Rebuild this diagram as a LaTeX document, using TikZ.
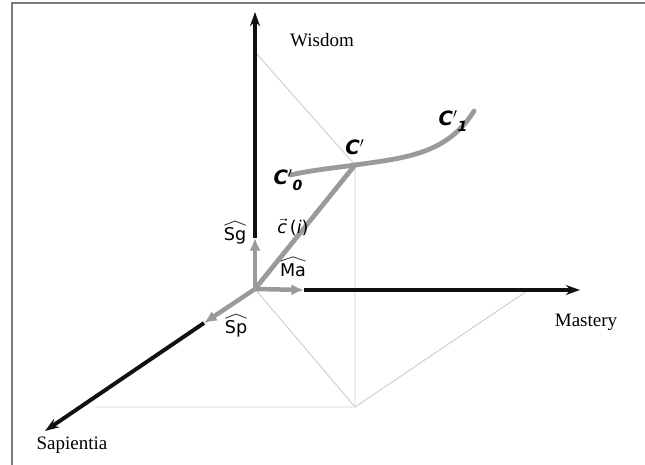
\documentclass[tikz,border=0pt]{standalone}
\usepackage{fontspec}
\setmainfont{Liberation Serif}
\newfontfamily\vecfont{DejaVu Sans}
\usetikzlibrary{arrows.meta}
\definecolor{axisblack}{HTML}{111111}
\definecolor{vecgray}{HTML}{9A9A9A}
\definecolor{projgray}{HTML}{CFCFCF}
\definecolor{framegray}{HTML}{7A7A7A}
\newcommand{\ptsub}[1]{\raisebox{-4pt}{\fontsize{10}{10}\selectfont #1}}

\begin{document}
\begin{tikzpicture}[
    x=0.025cm, y=-0.025cm,
    axis/.style={line width=2.8pt, axisblack, -{Stealth[length=10pt,width=7pt]}},
    unitvec/.style={line width=3.2pt, vecgray, -{Latex[length=9pt,width=8pt]}},
    proj/.style={line width=0.7pt, projgray},
    traj/.style={line width=3.4pt, vecgray, line cap=round},
    axlabel/.style={font=\fontsize{13.5}{15}\selectfont},
    veclabel/.style={font=\vecfont\fontsize{12.5}{13}\selectfont, inner sep=0pt},
    hatline/.style={line width=0.6pt, black!80},
    ptlabel/.style={font=\vecfont\bfseries\itshape\fontsize{14}{15}\selectfont},
  ]
  \useasboundingbox (0,0) rectangle (645,465);
  \draw[framegray, line width=2pt] (12,465) -- (12,3) -- (645,3);

  % frame of reference
  \coordinate (O) at (255,289);
  \coordinate (W) at (255,12);
  \coordinate (M) at (580,290);
  \coordinate (S) at (45,431);
  \coordinate (sgtip) at (255,238);
  \coordinate (matip) at (304,290);
  \coordinate (sptip) at (204,323);

  % point C and its projections
  \coordinate (C) at (355,165);
  \coordinate (Cg) at (355,407);
  \coordinate (Wp) at (255,52);
  \coordinate (Mp) at (527,291);
  \coordinate (Sp) at (96,407);

  \draw[proj] (Wp) -- (C) -- (Cg);
  \draw[proj] (O) -- (Cg);
  \draw[proj] (Sp) -- (Cg) -- (Mp);

  \draw[axis] (sgtip) -- (W);
  \draw[axis] (matip) -- (M);
  \draw[axis] (sptip) -- (S);

  \draw[unitvec] (O) -- (sgtip);
  \draw[unitvec] (O) -- (matip);
  \draw[unitvec] (O) -- (sptip);

  % trajectory
  \coordinate (c0) at (290,175);
  \coordinate (c1) at (474,111);
  \draw[traj] (O) -- (C);
  \draw[traj] (c0) to[out=12,in=188] (C) to[out=8,in=238] (c1);

  \node[axlabel] (wis) at (322,40) {Wisdom};
  \node[axlabel] (mas) at (586,322) {Mastery};
  \node[axlabel] (sap) at (72,445) {Sapientia};

  \node[veclabel] (lsg) at (235,236) {Sg};
  \node[veclabel] (lma) at (293,270) {Ma};
  \node[veclabel] (lsp) at (236,329) {Sp};
  \foreach \n in {lsg,lma,lsp}
    \draw[hatline] ([xshift=0.5pt,yshift=1.5pt]\n.north west)
      -- ([yshift=4.5pt]\n.north) -- ([xshift=-0.5pt,yshift=1.5pt]\n.north east);
  \node[veclabel] (lci) at (293,227) {$\vec{\mbox{\vecfont\itshape c}}$\,(\textit{i})};

  \node[ptlabel] (lc) at (355,147) {C$'$};
  \node[ptlabel] (lc0) at (288,180) {C$'$\ptsub{0}};
  \node[ptlabel] (lc1) at (453,121) {C$'$\ptsub{1}};
\end{tikzpicture}
\end{document}
